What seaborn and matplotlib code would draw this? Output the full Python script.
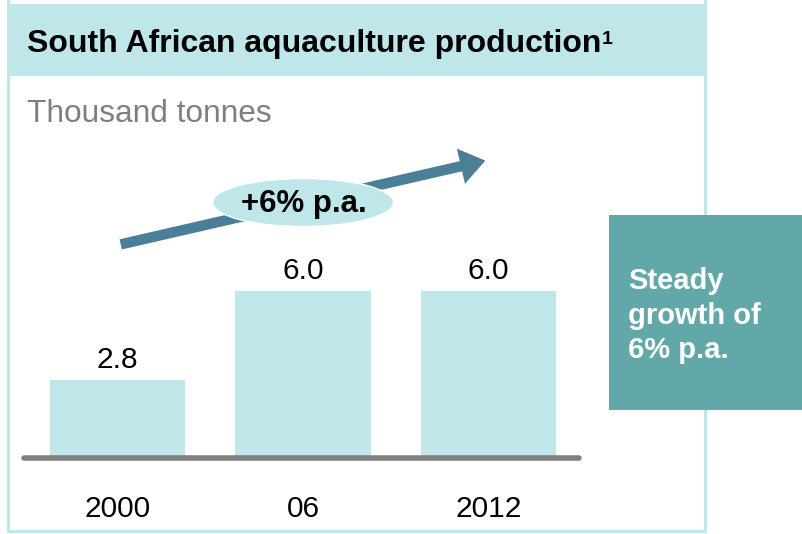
import matplotlib
matplotlib.use("Agg")
import matplotlib.pyplot as plt
from matplotlib.patches import Rectangle, Ellipse, FancyArrowPatch, ArrowStyle
import seaborn as sns
import pandas as pd

# Data
years = ["2000", "06", "2012"]
production = [2.8, 6.0, 6.0]          # thousand tonnes
value_labels = ["2.8", "6.0", "6.0"]

title = "South African aquaculture production"
title_note = "1"
unit_label = "Thousand tonnes"
growth_label = "+6% p.a."
side_note = ["Steady", "growth of", "6% p.a."]

# Colours
LIGHT_TEAL = "#BFE7E9"
DARK_TEAL = "#63A8A8"
ARROW_BLUE = "#4B7F97"
AXIS_GREY = "#7F7F7F"

sns.set_theme(style="white")
plt.rcParams["font.family"] = ["Liberation Sans", "DejaVu Sans"]
plt.rcParams["text.color"] = "black"

W, H = 803, 534
fig = plt.figure(figsize=(W / 100, H / 100), dpi=100)

# Overlay in pixel coordinates (origin top-left) for the panel decorations
deco = fig.add_axes([0, 0, 1, 1], zorder=0)
deco.set_xlim(0, W)
deco.set_ylim(H, 0)
deco.axis("off")
deco.patch.set_alpha(0)

# Panel frame and header band
deco.add_patch(Rectangle((8.5, -10), 697, 540.5, fill=False,
                         edgecolor=LIGHT_TEAL, lw=2.2))
deco.add_patch(Rectangle((7, 3.5), 700, 72.5, facecolor=LIGHT_TEAL,
                         edgecolor="none"))
t = deco.text(27, 52, title, fontsize=23, fontweight="bold", color="black",
              va="baseline", ha="left")
renderer = fig.canvas.get_renderer()
bb = t.get_window_extent(renderer=renderer)
deco.text(bb.x1 + 0.5, 43.5, title_note, fontsize=14, fontweight="bold",
          color="black", va="baseline", ha="left")
deco.text(27, 121.5, unit_label, fontsize=22.8, color=AXIS_GREY,
          va="baseline", ha="left")

# Growth arrow with label bubble
arrow = FancyArrowPatch((118, 245), (488, 160),
                        arrowstyle=ArrowStyle.Simple(head_length=1.8,
                                                     head_width=2.6,
                                                     tail_width=0.75),
                        mutation_scale=10, color=ARROW_BLUE, lw=0)
deco.add_patch(arrow)
deco.add_patch(Ellipse((303, 202.5), 181, 48, facecolor=LIGHT_TEAL,
                       edgecolor="white", lw=1.0, zorder=3))
deco.text(303.5, 204, growth_label, fontsize=22.5, fontweight="bold",
          color="black", ha="center", va="center", zorder=4)

# Side box
deco.add_patch(Rectangle((609, 215), 200, 195, facecolor=DARK_TEAL,
                         edgecolor="none", zorder=5))
for i, line in enumerate(side_note):
    deco.text(628, 289 + 34.5 * i, line, fontsize=21, fontweight="bold",
              color="white", va="baseline", ha="left", zorder=6)

# Bar chart axes: baseline at y=458 px, 27.83 px per thousand tonnes
base_px, top_px = 458, 140
ax_left, ax_right = 24.5, 579.5
ax = fig.add_axes([ax_left / W, (H - base_px) / H,
                   (ax_right - ax_left) / W, (base_px - top_px) / H], zorder=2)
ax.patch.set_alpha(0)

df = pd.DataFrame({"year": years, "production": production})
sns.barplot(data=df, x="year", y="production", order=years,
            color=LIGHT_TEAL, saturation=1, width=0.73, ax=ax)
for p in ax.patches:
    p.set_edgecolor("none")

px_per_unit = 27.83
ax.set_ylim(0, (base_px - top_px) / px_per_unit)
centre_step = 185.5
ax.set_xlim(-(117.5 - ax_left) / centre_step, 2 + (ax_right - 488.5) / centre_step)

ax.bar_label(ax.containers[0], labels=value_labels, padding=4.5,
             fontsize=21.5, color="black")
ax.axhline(0, color=AXIS_GREY, lw=4, solid_capstyle="round", clip_on=False,
           zorder=5)

ax.set_xlabel("")
ax.set_ylabel("")
ax.set_yticks([])
ax.tick_params(axis="x", length=0, pad=26.5, labelsize=21.5, labelcolor="black")
sns.despine(ax=ax, left=True, bottom=True)

fig.savefig("out.png", dpi=100)
